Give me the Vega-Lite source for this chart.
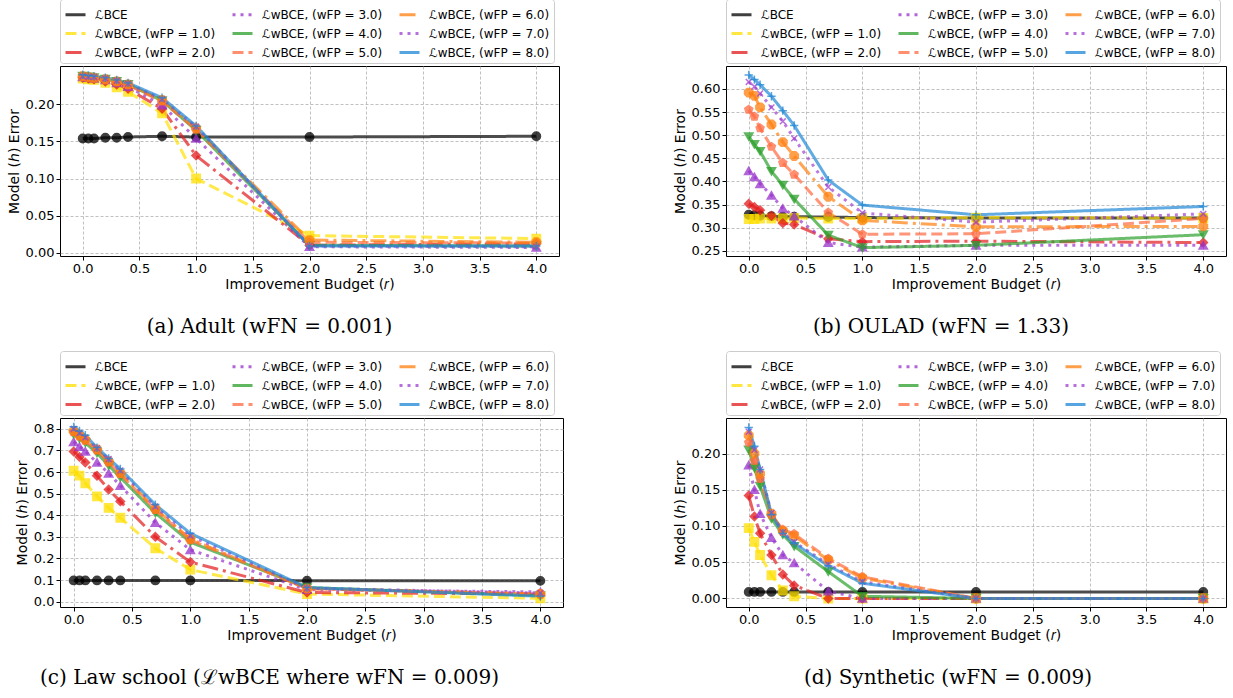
{
"$schema": "https://vega.github.io/schema/vega-lite/v6.json",
"padding": {"left": 6, "top": -2, "right": 0, "bottom": 0},
"background": "white",
"data": {"values": [
{"p":"a","s":"BCE","r":0,"e":0.154},{"p":"a","s":"BCE","r":0.05,"e":0.154},{"p":"a","s":"BCE","r":0.1,"e":0.154},{"p":"a","s":"BCE","r":0.2,"e":0.155},{"p":"a","s":"BCE","r":0.3,"e":0.155},{"p":"a","s":"BCE","r":0.4,"e":0.156},{"p":"a","s":"BCE","r":0.7,"e":0.157},{"p":"a","s":"BCE","r":1,"e":0.156},{"p":"a","s":"BCE","r":2,"e":0.156},{"p":"a","s":"BCE","r":4,"e":0.157},
{"p":"a","s":"w1","r":0,"e":0.235},{"p":"a","s":"w1","r":0.05,"e":0.234},{"p":"a","s":"w1","r":0.1,"e":0.233},{"p":"a","s":"w1","r":0.2,"e":0.229},{"p":"a","s":"w1","r":0.3,"e":0.223},{"p":"a","s":"w1","r":0.4,"e":0.217},{"p":"a","s":"w1","r":0.7,"e":0.188},{"p":"a","s":"w1","r":1,"e":0.100},{"p":"a","s":"w1","r":2,"e":0.023},{"p":"a","s":"w1","r":4,"e":0.019},
{"p":"a","s":"w2","r":0,"e":0.236},{"p":"a","s":"w2","r":0.05,"e":0.235},{"p":"a","s":"w2","r":0.1,"e":0.234},{"p":"a","s":"w2","r":0.2,"e":0.231},{"p":"a","s":"w2","r":0.3,"e":0.227},{"p":"a","s":"w2","r":0.4,"e":0.221},{"p":"a","s":"w2","r":0.7,"e":0.194},{"p":"a","s":"w2","r":1,"e":0.131},{"p":"a","s":"w2","r":2,"e":0.010},{"p":"a","s":"w2","r":4,"e":0.012},
{"p":"a","s":"w3","r":0,"e":0.237},{"p":"a","s":"w3","r":0.05,"e":0.236},{"p":"a","s":"w3","r":0.1,"e":0.235},{"p":"a","s":"w3","r":0.2,"e":0.233},{"p":"a","s":"w3","r":0.3,"e":0.229},{"p":"a","s":"w3","r":0.4,"e":0.224},{"p":"a","s":"w3","r":0.7,"e":0.199},{"p":"a","s":"w3","r":1,"e":0.154},{"p":"a","s":"w3","r":2,"e":0.008},{"p":"a","s":"w3","r":4,"e":0.007},
{"p":"a","s":"w4","r":0,"e":0.238},{"p":"a","s":"w4","r":0.05,"e":0.237},{"p":"a","s":"w4","r":0.1,"e":0.236},{"p":"a","s":"w4","r":0.2,"e":0.234},{"p":"a","s":"w4","r":0.3,"e":0.231},{"p":"a","s":"w4","r":0.4,"e":0.227},{"p":"a","s":"w4","r":0.7,"e":0.205},{"p":"a","s":"w4","r":1,"e":0.165},{"p":"a","s":"w4","r":2,"e":0.010},{"p":"a","s":"w4","r":4,"e":0.009},
{"p":"a","s":"w5","r":0,"e":0.237},{"p":"a","s":"w5","r":0.05,"e":0.236},{"p":"a","s":"w5","r":0.1,"e":0.235},{"p":"a","s":"w5","r":0.2,"e":0.233},{"p":"a","s":"w5","r":0.3,"e":0.230},{"p":"a","s":"w5","r":0.4,"e":0.226},{"p":"a","s":"w5","r":0.7,"e":0.204},{"p":"a","s":"w5","r":1,"e":0.166},{"p":"a","s":"w5","r":2,"e":0.014},{"p":"a","s":"w5","r":4,"e":0.013},
{"p":"a","s":"w6","r":0,"e":0.238},{"p":"a","s":"w6","r":0.05,"e":0.237},{"p":"a","s":"w6","r":0.1,"e":0.236},{"p":"a","s":"w6","r":0.2,"e":0.234},{"p":"a","s":"w6","r":0.3,"e":0.231},{"p":"a","s":"w6","r":0.4,"e":0.227},{"p":"a","s":"w6","r":0.7,"e":0.206},{"p":"a","s":"w6","r":1,"e":0.168},{"p":"a","s":"w6","r":2,"e":0.017},{"p":"a","s":"w6","r":4,"e":0.014},
{"p":"a","s":"w7","r":0,"e":0.238},{"p":"a","s":"w7","r":0.05,"e":0.237},{"p":"a","s":"w7","r":0.1,"e":0.237},{"p":"a","s":"w7","r":0.2,"e":0.235},{"p":"a","s":"w7","r":0.3,"e":0.232},{"p":"a","s":"w7","r":0.4,"e":0.228},{"p":"a","s":"w7","r":0.7,"e":0.207},{"p":"a","s":"w7","r":1,"e":0.170},{"p":"a","s":"w7","r":2,"e":0.009},{"p":"a","s":"w7","r":4,"e":0.008},
{"p":"a","s":"w8","r":0,"e":0.240},{"p":"a","s":"w8","r":0.05,"e":0.239},{"p":"a","s":"w8","r":0.1,"e":0.238},{"p":"a","s":"w8","r":0.2,"e":0.236},{"p":"a","s":"w8","r":0.3,"e":0.233},{"p":"a","s":"w8","r":0.4,"e":0.229},{"p":"a","s":"w8","r":0.7,"e":0.209},{"p":"a","s":"w8","r":1,"e":0.171},{"p":"a","s":"w8","r":2,"e":0.009},{"p":"a","s":"w8","r":4,"e":0.009},
{"p":"b","s":"BCE","r":0,"e":0.328},{"p":"b","s":"BCE","r":0.05,"e":0.327},{"p":"b","s":"BCE","r":0.1,"e":0.326},{"p":"b","s":"BCE","r":0.2,"e":0.325},{"p":"b","s":"BCE","r":0.3,"e":0.324},{"p":"b","s":"BCE","r":0.4,"e":0.324},{"p":"b","s":"BCE","r":0.7,"e":0.323},{"p":"b","s":"BCE","r":1,"e":0.322},{"p":"b","s":"BCE","r":2,"e":0.321},{"p":"b","s":"BCE","r":4,"e":0.321},
{"p":"b","s":"w1","r":0,"e":0.319},{"p":"b","s":"w1","r":0.05,"e":0.319},{"p":"b","s":"w1","r":0.1,"e":0.320},{"p":"b","s":"w1","r":0.2,"e":0.320},{"p":"b","s":"w1","r":0.3,"e":0.320},{"p":"b","s":"w1","r":0.4,"e":0.321},{"p":"b","s":"w1","r":0.7,"e":0.320},{"p":"b","s":"w1","r":1,"e":0.320},{"p":"b","s":"w1","r":2,"e":0.322},{"p":"b","s":"w1","r":4,"e":0.321},
{"p":"b","s":"w2","r":0,"e":0.352},{"p":"b","s":"w2","r":0.05,"e":0.345},{"p":"b","s":"w2","r":0.1,"e":0.338},{"p":"b","s":"w2","r":0.2,"e":0.326},{"p":"b","s":"w2","r":0.3,"e":0.310},{"p":"b","s":"w2","r":0.4,"e":0.307},{"p":"b","s":"w2","r":0.7,"e":0.276},{"p":"b","s":"w2","r":1,"e":0.270},{"p":"b","s":"w2","r":2,"e":0.271},{"p":"b","s":"w2","r":4,"e":0.268},
{"p":"b","s":"w3","r":0,"e":0.423},{"p":"b","s":"w3","r":0.05,"e":0.410},{"p":"b","s":"w3","r":0.1,"e":0.395},{"p":"b","s":"w3","r":0.2,"e":0.370},{"p":"b","s":"w3","r":0.3,"e":0.342},{"p":"b","s":"w3","r":0.4,"e":0.325},{"p":"b","s":"w3","r":0.7,"e":0.268},{"p":"b","s":"w3","r":1,"e":0.258},{"p":"b","s":"w3","r":2,"e":0.262},{"p":"b","s":"w3","r":4,"e":0.262},
{"p":"b","s":"w4","r":0,"e":0.497},{"p":"b","s":"w4","r":0.05,"e":0.480},{"p":"b","s":"w4","r":0.1,"e":0.465},{"p":"b","s":"w4","r":0.2,"e":0.422},{"p":"b","s":"w4","r":0.3,"e":0.392},{"p":"b","s":"w4","r":0.4,"e":0.362},{"p":"b","s":"w4","r":0.7,"e":0.284},{"p":"b","s":"w4","r":1,"e":0.257},{"p":"b","s":"w4","r":2,"e":0.262},{"p":"b","s":"w4","r":4,"e":0.285},
{"p":"b","s":"w5","r":0,"e":0.555},{"p":"b","s":"w5","r":0.05,"e":0.540},{"p":"b","s":"w5","r":0.1,"e":0.515},{"p":"b","s":"w5","r":0.2,"e":0.475},{"p":"b","s":"w5","r":0.3,"e":0.440},{"p":"b","s":"w5","r":0.4,"e":0.415},{"p":"b","s":"w5","r":0.7,"e":0.333},{"p":"b","s":"w5","r":1,"e":0.286},{"p":"b","s":"w5","r":2,"e":0.287},{"p":"b","s":"w5","r":4,"e":0.320},
{"p":"b","s":"w6","r":0,"e":0.592},{"p":"b","s":"w6","r":0.05,"e":0.585},{"p":"b","s":"w6","r":0.1,"e":0.560},{"p":"b","s":"w6","r":0.2,"e":0.523},{"p":"b","s":"w6","r":0.3,"e":0.485},{"p":"b","s":"w6","r":0.4,"e":0.455},{"p":"b","s":"w6","r":0.7,"e":0.367},{"p":"b","s":"w6","r":1,"e":0.316},{"p":"b","s":"w6","r":2,"e":0.302},{"p":"b","s":"w6","r":4,"e":0.303},
{"p":"b","s":"w7","r":0,"e":0.615},{"p":"b","s":"w7","r":0.05,"e":0.605},{"p":"b","s":"w7","r":0.1,"e":0.590},{"p":"b","s":"w7","r":0.2,"e":0.560},{"p":"b","s":"w7","r":0.3,"e":0.530},{"p":"b","s":"w7","r":0.4,"e":0.493},{"p":"b","s":"w7","r":0.7,"e":0.388},{"p":"b","s":"w7","r":1,"e":0.332},{"p":"b","s":"w7","r":2,"e":0.312},{"p":"b","s":"w7","r":4,"e":0.330},
{"p":"b","s":"w8","r":0,"e":0.630},{"p":"b","s":"w8","r":0.05,"e":0.620},{"p":"b","s":"w8","r":0.1,"e":0.609},{"p":"b","s":"w8","r":0.2,"e":0.584},{"p":"b","s":"w8","r":0.3,"e":0.553},{"p":"b","s":"w8","r":0.4,"e":0.521},{"p":"b","s":"w8","r":0.7,"e":0.403},{"p":"b","s":"w8","r":1,"e":0.349},{"p":"b","s":"w8","r":2,"e":0.328},{"p":"b","s":"w8","r":4,"e":0.346},
{"p":"c","s":"BCE","r":0,"e":0.098},{"p":"c","s":"BCE","r":0.05,"e":0.098},{"p":"c","s":"BCE","r":0.1,"e":0.098},{"p":"c","s":"BCE","r":0.2,"e":0.098},{"p":"c","s":"BCE","r":0.3,"e":0.098},{"p":"c","s":"BCE","r":0.4,"e":0.098},{"p":"c","s":"BCE","r":0.7,"e":0.098},{"p":"c","s":"BCE","r":1,"e":0.098},{"p":"c","s":"BCE","r":2,"e":0.097},{"p":"c","s":"BCE","r":4,"e":0.096},
{"p":"c","s":"w1","r":0,"e":0.606},{"p":"c","s":"w1","r":0.05,"e":0.583},{"p":"c","s":"w1","r":0.1,"e":0.548},{"p":"c","s":"w1","r":0.2,"e":0.487},{"p":"c","s":"w1","r":0.3,"e":0.434},{"p":"c","s":"w1","r":0.4,"e":0.388},{"p":"c","s":"w1","r":0.7,"e":0.247},{"p":"c","s":"w1","r":1,"e":0.148},{"p":"c","s":"w1","r":2,"e":0.035},{"p":"c","s":"w1","r":4,"e":0.015},
{"p":"c","s":"w2","r":0,"e":0.695},{"p":"c","s":"w2","r":0.05,"e":0.670},{"p":"c","s":"w2","r":0.1,"e":0.644},{"p":"c","s":"w2","r":0.2,"e":0.583},{"p":"c","s":"w2","r":0.3,"e":0.519},{"p":"c","s":"w2","r":0.4,"e":0.464},{"p":"c","s":"w2","r":0.7,"e":0.300},{"p":"c","s":"w2","r":1,"e":0.183},{"p":"c","s":"w2","r":2,"e":0.042},{"p":"c","s":"w2","r":4,"e":0.035},
{"p":"c","s":"w3","r":0,"e":0.740},{"p":"c","s":"w3","r":0.05,"e":0.718},{"p":"c","s":"w3","r":0.1,"e":0.696},{"p":"c","s":"w3","r":0.2,"e":0.644},{"p":"c","s":"w3","r":0.3,"e":0.594},{"p":"c","s":"w3","r":0.4,"e":0.537},{"p":"c","s":"w3","r":0.7,"e":0.366},{"p":"c","s":"w3","r":1,"e":0.240},{"p":"c","s":"w3","r":2,"e":0.055},{"p":"c","s":"w3","r":4,"e":0.045},
{"p":"c","s":"w4","r":0,"e":0.775},{"p":"c","s":"w4","r":0.05,"e":0.755},{"p":"c","s":"w4","r":0.1,"e":0.735},{"p":"c","s":"w4","r":0.2,"e":0.688},{"p":"c","s":"w4","r":0.3,"e":0.630},{"p":"c","s":"w4","r":0.4,"e":0.575},{"p":"c","s":"w4","r":0.7,"e":0.410},{"p":"c","s":"w4","r":1,"e":0.275},{"p":"c","s":"w4","r":2,"e":0.065},{"p":"c","s":"w4","r":4,"e":0.028},
{"p":"c","s":"w5","r":0,"e":0.785},{"p":"c","s":"w5","r":0.05,"e":0.765},{"p":"c","s":"w5","r":0.1,"e":0.745},{"p":"c","s":"w5","r":0.2,"e":0.700},{"p":"c","s":"w5","r":0.3,"e":0.645},{"p":"c","s":"w5","r":0.4,"e":0.590},{"p":"c","s":"w5","r":0.7,"e":0.425},{"p":"c","s":"w5","r":1,"e":0.285},{"p":"c","s":"w5","r":2,"e":0.060},{"p":"c","s":"w5","r":4,"e":0.035},
{"p":"c","s":"w6","r":0,"e":0.790},{"p":"c","s":"w6","r":0.05,"e":0.770},{"p":"c","s":"w6","r":0.1,"e":0.750},{"p":"c","s":"w6","r":0.2,"e":0.705},{"p":"c","s":"w6","r":0.3,"e":0.650},{"p":"c","s":"w6","r":0.4,"e":0.595},{"p":"c","s":"w6","r":0.7,"e":0.430},{"p":"c","s":"w6","r":1,"e":0.290},{"p":"c","s":"w6","r":2,"e":0.060},{"p":"c","s":"w6","r":4,"e":0.035},
{"p":"c","s":"w7","r":0,"e":0.800},{"p":"c","s":"w7","r":0.05,"e":0.780},{"p":"c","s":"w7","r":0.1,"e":0.760},{"p":"c","s":"w7","r":0.2,"e":0.710},{"p":"c","s":"w7","r":0.3,"e":0.660},{"p":"c","s":"w7","r":0.4,"e":0.607},{"p":"c","s":"w7","r":0.7,"e":0.440},{"p":"c","s":"w7","r":1,"e":0.305},{"p":"c","s":"w7","r":2,"e":0.062},{"p":"c","s":"w7","r":4,"e":0.040},
{"p":"c","s":"w8","r":0,"e":0.809},{"p":"c","s":"w8","r":0.05,"e":0.790},{"p":"c","s":"w8","r":0.1,"e":0.770},{"p":"c","s":"w8","r":0.2,"e":0.713},{"p":"c","s":"w8","r":0.3,"e":0.663},{"p":"c","s":"w8","r":0.4,"e":0.614},{"p":"c","s":"w8","r":0.7,"e":0.449},{"p":"c","s":"w8","r":1,"e":0.316},{"p":"c","s":"w8","r":2,"e":0.065},{"p":"c","s":"w8","r":4,"e":0.025},
{"p":"d","s":"BCE","r":0,"e":0.009},{"p":"d","s":"BCE","r":0.05,"e":0.009},{"p":"d","s":"BCE","r":0.1,"e":0.009},{"p":"d","s":"BCE","r":0.2,"e":0.009},{"p":"d","s":"BCE","r":0.3,"e":0.009},{"p":"d","s":"BCE","r":0.4,"e":0.009},{"p":"d","s":"BCE","r":0.7,"e":0.009},{"p":"d","s":"BCE","r":1,"e":0.009},{"p":"d","s":"BCE","r":2,"e":0.009},{"p":"d","s":"BCE","r":4,"e":0.009},
{"p":"d","s":"w1","r":0,"e":0.097},{"p":"d","s":"w1","r":0.05,"e":0.078},{"p":"d","s":"w1","r":0.1,"e":0.060},{"p":"d","s":"w1","r":0.2,"e":0.032},{"p":"d","s":"w1","r":0.3,"e":0.011},{"p":"d","s":"w1","r":0.4,"e":0.003},{"p":"d","s":"w1","r":0.7,"e":0.0},{"p":"d","s":"w1","r":1,"e":0.0},{"p":"d","s":"w1","r":2,"e":0.0},{"p":"d","s":"w1","r":4,"e":0.0},
{"p":"d","s":"w2","r":0,"e":0.142},{"p":"d","s":"w2","r":0.05,"e":0.113},{"p":"d","s":"w2","r":0.1,"e":0.090},{"p":"d","s":"w2","r":0.2,"e":0.060},{"p":"d","s":"w2","r":0.3,"e":0.033},{"p":"d","s":"w2","r":0.4,"e":0.018},{"p":"d","s":"w2","r":0.7,"e":0.0},{"p":"d","s":"w2","r":1,"e":0.0},{"p":"d","s":"w2","r":2,"e":0.0},{"p":"d","s":"w2","r":4,"e":0.0},
{"p":"d","s":"w3","r":0,"e":0.184},{"p":"d","s":"w3","r":0.05,"e":0.150},{"p":"d","s":"w3","r":0.1,"e":0.117},{"p":"d","s":"w3","r":0.2,"e":0.084},{"p":"d","s":"w3","r":0.3,"e":0.060},{"p":"d","s":"w3","r":0.4,"e":0.049},{"p":"d","s":"w3","r":0.7,"e":0.010},{"p":"d","s":"w3","r":1,"e":0.0},{"p":"d","s":"w3","r":2,"e":0.0},{"p":"d","s":"w3","r":4,"e":0.0},
{"p":"d","s":"w4","r":0,"e":0.205},{"p":"d","s":"w4","r":0.05,"e":0.180},{"p":"d","s":"w4","r":0.1,"e":0.155},{"p":"d","s":"w4","r":0.2,"e":0.110},{"p":"d","s":"w4","r":0.3,"e":0.088},{"p":"d","s":"w4","r":0.4,"e":0.072},{"p":"d","s":"w4","r":0.7,"e":0.037},{"p":"d","s":"w4","r":1,"e":0.003},{"p":"d","s":"w4","r":2,"e":0.0},{"p":"d","s":"w4","r":4,"e":0.0},
{"p":"d","s":"w5","r":0,"e":0.215},{"p":"d","s":"w5","r":0.05,"e":0.190},{"p":"d","s":"w5","r":0.1,"e":0.165},{"p":"d","s":"w5","r":0.2,"e":0.115},{"p":"d","s":"w5","r":0.3,"e":0.095},{"p":"d","s":"w5","r":0.4,"e":0.089},{"p":"d","s":"w5","r":0.7,"e":0.055},{"p":"d","s":"w5","r":1,"e":0.030},{"p":"d","s":"w5","r":2,"e":0.0},{"p":"d","s":"w5","r":4,"e":0.0},
{"p":"d","s":"w6","r":0,"e":0.225},{"p":"d","s":"w6","r":0.05,"e":0.200},{"p":"d","s":"w6","r":0.1,"e":0.172},{"p":"d","s":"w6","r":0.2,"e":0.117},{"p":"d","s":"w6","r":0.3,"e":0.093},{"p":"d","s":"w6","r":0.4,"e":0.086},{"p":"d","s":"w6","r":0.7,"e":0.053},{"p":"d","s":"w6","r":1,"e":0.028},{"p":"d","s":"w6","r":2,"e":0.0},{"p":"d","s":"w6","r":4,"e":0.0},
{"p":"d","s":"w7","r":0,"e":0.230},{"p":"d","s":"w7","r":0.05,"e":0.205},{"p":"d","s":"w7","r":0.1,"e":0.178},{"p":"d","s":"w7","r":0.2,"e":0.118},{"p":"d","s":"w7","r":0.3,"e":0.091},{"p":"d","s":"w7","r":0.4,"e":0.078},{"p":"d","s":"w7","r":0.7,"e":0.047},{"p":"d","s":"w7","r":1,"e":0.023},{"p":"d","s":"w7","r":2,"e":0.0},{"p":"d","s":"w7","r":4,"e":0.0},
{"p":"d","s":"w8","r":0,"e":0.236},{"p":"d","s":"w8","r":0.05,"e":0.210},{"p":"d","s":"w8","r":0.1,"e":0.178},{"p":"d","s":"w8","r":0.2,"e":0.116},{"p":"d","s":"w8","r":0.3,"e":0.090},{"p":"d","s":"w8","r":0.4,"e":0.076},{"p":"d","s":"w8","r":0.7,"e":0.045},{"p":"d","s":"w8","r":1,"e":0.021},{"p":"d","s":"w8","r":2,"e":0.0},{"p":"d","s":"w8","r":4,"e":0.0}
]},
"spacing": 352,
"bounds": "flush",
"resolve": {"legend": {"color": "independent", "strokeDash": "independent"}},
"vconcat": [
{"hconcat": [
{"width": 499, "height": 190,
 "transform": [{"filter": "datum.p == 'a'"}],
 "title": {"text": "(a) Adult (wFN = 0.001)", "dx": -40},
 "encoding": {
  "x": {"field": "r", "type": "quantitative", "scale": {"domain": [-0.2, 4.2], "nice": false, "zero": false}, "axis": {"values": [0, 0.5, 1, 1.5, 2, 2.5, 3, 3.5, 4], "format": ".1f", "title": "Improvement Budget (𝑟)"}},
  "y": {"field": "e", "type": "quantitative", "scale": {"domain": [-0.0045, 0.2518], "nice": false, "zero": false}, "axis": {"values": [0, 0.05, 0.1, 0.15, 0.2], "format": ".2f", "title": "Model (ℎ) Error"}}
 },
 "layer": [
  {"mark": {"type": "line", "strokeWidth": 3, "opacity": 0.7},
   "encoding": {
    "color": {"field": "s", "type": "nominal", "scale": {"domain": ["BCE","w3","w6","w1","w4","w7","w2","w5","w8"], "range": ["#000000","#9932cc","#ff7f0e","#ffe000","#2ca02c","#a040d0","#e31a1c","#ff6a40","#1f88d6"]}, "legend": {"title": null, "orient": "top", "columns": 3, "labelExpr": "datum.label == 'BCE' ? 'ℒBCE' : 'ℒwBCE, (wFP = ' + substring(datum.label, 1) + '.0)'", "symbolType": "stroke", "symbolSize": 400, "symbolStrokeWidth": 3, "symbolOpacity": 0.75, "labelFontSize": 12, "labelOffset": 8, "columnPadding": 10, "rowPadding": 1, "padding": 4, "offset": 3, "strokeColor": "#cccccc", "fillColor": "white", "cornerRadius": 3, "labelLimit": 0}},
    "strokeDash": {"field": "s", "type": "nominal", "scale": {"domain": ["BCE","w3","w6","w1","w4","w7","w2","w5","w8"], "range": [[1,0],[3,5],[16,5,3,5],[11,5],[1,0],[3,5],[16,5,3,5],[11,5],[1,0]]}, "legend": {"title": null, "orient": "top", "columns": 3, "labelExpr": "datum.label == 'BCE' ? 'ℒBCE' : 'ℒwBCE, (wFP = ' + substring(datum.label, 1) + '.0)'", "symbolType": "stroke", "symbolSize": 400, "symbolStrokeWidth": 3, "symbolOpacity": 0.75, "labelFontSize": 12, "labelOffset": 8, "columnPadding": 10, "rowPadding": 1, "padding": 4, "offset": 3, "strokeColor": "#cccccc", "fillColor": "white", "cornerRadius": 3, "labelLimit": 0}}
   }},
  {"mark": {"type": "point", "filled": true, "size": 70, "opacity": 0.75, "strokeWidth": 1.5},
   "encoding": {
    "fill": {"field": "s", "type": "nominal", "scale": {"domain": ["BCE","w3","w6","w1","w4","w7","w2","w5","w8"], "range": ["#000000","#9932cc","#ff7f0e","#ffe000","#2ca02c","#a040d0","#e31a1c","#ff6a40","#1f88d6"]}, "legend": null},
    "stroke": {"field": "s", "type": "nominal", "scale": {"domain": ["BCE","w3","w6","w1","w4","w7","w2","w5","w8"], "range": ["#000000","#9932cc","#ff7f0e","#ffe000","#2ca02c","#a040d0","#e31a1c","#ff6a40","#1f88d6"]}, "legend": null},
    "shape": {"field": "s", "type": "nominal", "scale": {"domain": ["BCE","w3","w6","w1","w4","w7","w2","w5","w8"], "range": ["circle","triangle-up","M-0.414,-1L0.414,-1L1,-0.414L1,0.414L0.414,1L-0.414,1L-1,0.414L-1,-0.414Z","square","triangle-down","M-0.7,-0.7L0.7,0.7M-0.7,0.7L0.7,-0.7","diamond","M0,-1L0.951,-0.309L0.588,0.809L-0.588,0.809L-0.951,-0.309Z","M-1,0L1,0M0,-1L0,1"]}, "legend": null}
   }}
 ]},
{"width": 500, "height": 190,
 "transform": [{"filter": "datum.p == 'b'"}],
 "title": {"text": "(b) OULAD (wFN = 1.33)", "dx": -35},
 "encoding": {
  "x": {"field": "r", "type": "quantitative", "scale": {"domain": [-0.2, 4.2], "nice": false, "zero": false}, "axis": {"values": [0, 0.5, 1, 1.5, 2, 2.5, 3, 3.5, 4], "format": ".1f", "title": "Improvement Budget (𝑟)"}},
  "y": {"field": "e", "type": "quantitative", "scale": {"domain": [0.239, 0.6494], "nice": false, "zero": false}, "axis": {"values": [0.25, 0.3, 0.35, 0.4, 0.45, 0.5, 0.55, 0.6], "format": ".2f", "title": "Model (ℎ) Error"}}
 },
 "layer": [
  {"mark": {"type": "line", "strokeWidth": 3, "opacity": 0.7},
   "encoding": {
    "color": {"field": "s", "type": "nominal", "scale": {"domain": ["BCE","w3","w6","w1","w4","w7","w2","w5","w8"], "range": ["#000000","#9932cc","#ff7f0e","#ffe000","#2ca02c","#a040d0","#e31a1c","#ff6a40","#1f88d6"]}, "legend": {"title": null, "orient": "top", "columns": 3, "labelExpr": "datum.label == 'BCE' ? 'ℒBCE' : 'ℒwBCE, (wFP = ' + substring(datum.label, 1) + '.0)'", "symbolType": "stroke", "symbolSize": 400, "symbolStrokeWidth": 3, "symbolOpacity": 0.75, "labelFontSize": 12, "labelOffset": 8, "columnPadding": 10, "rowPadding": 1, "padding": 4, "offset": 3, "strokeColor": "#cccccc", "fillColor": "white", "cornerRadius": 3, "labelLimit": 0}},
    "strokeDash": {"field": "s", "type": "nominal", "scale": {"domain": ["BCE","w3","w6","w1","w4","w7","w2","w5","w8"], "range": [[1,0],[3,5],[16,5,3,5],[11,5],[1,0],[3,5],[16,5,3,5],[11,5],[1,0]]}, "legend": {"title": null, "orient": "top", "columns": 3, "labelExpr": "datum.label == 'BCE' ? 'ℒBCE' : 'ℒwBCE, (wFP = ' + substring(datum.label, 1) + '.0)'", "symbolType": "stroke", "symbolSize": 400, "symbolStrokeWidth": 3, "symbolOpacity": 0.75, "labelFontSize": 12, "labelOffset": 8, "columnPadding": 10, "rowPadding": 1, "padding": 4, "offset": 3, "strokeColor": "#cccccc", "fillColor": "white", "cornerRadius": 3, "labelLimit": 0}}
   }},
  {"mark": {"type": "point", "filled": true, "size": 70, "opacity": 0.75, "strokeWidth": 1.5},
   "encoding": {
    "fill": {"field": "s", "type": "nominal", "scale": {"domain": ["BCE","w3","w6","w1","w4","w7","w2","w5","w8"], "range": ["#000000","#9932cc","#ff7f0e","#ffe000","#2ca02c","#a040d0","#e31a1c","#ff6a40","#1f88d6"]}, "legend": null},
    "stroke": {"field": "s", "type": "nominal", "scale": {"domain": ["BCE","w3","w6","w1","w4","w7","w2","w5","w8"], "range": ["#000000","#9932cc","#ff7f0e","#ffe000","#2ca02c","#a040d0","#e31a1c","#ff6a40","#1f88d6"]}, "legend": null},
    "shape": {"field": "s", "type": "nominal", "scale": {"domain": ["BCE","w3","w6","w1","w4","w7","w2","w5","w8"], "range": ["circle","triangle-up","M-0.414,-1L0.414,-1L1,-0.414L1,0.414L0.414,1L-0.414,1L-1,0.414L-1,-0.414Z","square","triangle-down","M-0.7,-0.7L0.7,0.7M-0.7,0.7L0.7,-0.7","diamond","M0,-1L0.951,-0.309L0.588,0.809L-0.588,0.809L-0.951,-0.309Z","M-1,0L1,0M0,-1L0,1"]}, "legend": null}
   }}
 ]}
], "spacing": 167, "bounds": "flush", "resolve": {"legend": {"color": "independent", "strokeDash": "independent"}}},
{"hconcat": [
{"width": 503, "height": 189,
 "transform": [{"filter": "datum.p == 'c'"}],
 "title": {"text": "(c) Law school (ℒwBCE where wFN = 0.009)", "dx": -42},
 "encoding": {
  "x": {"field": "r", "type": "quantitative", "scale": {"domain": [-0.117, 4.194], "nice": false, "zero": false}, "axis": {"values": [0, 0.5, 1, 1.5, 2, 2.5, 3, 3.5, 4], "format": ".1f", "title": "Improvement Budget (𝑟)"}},
  "y": {"field": "e", "type": "quantitative", "scale": {"domain": [-0.025, 0.85], "nice": false, "zero": false}, "axis": {"values": [0, 0.1, 0.2, 0.3, 0.4, 0.5, 0.6, 0.7, 0.8], "format": ".1f", "title": "Model (ℎ) Error"}}
 },
 "layer": [
  {"mark": {"type": "line", "strokeWidth": 3, "opacity": 0.7},
   "encoding": {
    "color": {"field": "s", "type": "nominal", "scale": {"domain": ["BCE","w3","w6","w1","w4","w7","w2","w5","w8"], "range": ["#000000","#9932cc","#ff7f0e","#ffe000","#2ca02c","#a040d0","#e31a1c","#ff6a40","#1f88d6"]}, "legend": {"title": null, "orient": "top", "columns": 3, "labelExpr": "datum.label == 'BCE' ? 'ℒBCE' : 'ℒwBCE, (wFP = ' + substring(datum.label, 1) + '.0)'", "symbolType": "stroke", "symbolSize": 400, "symbolStrokeWidth": 3, "symbolOpacity": 0.75, "labelFontSize": 12, "labelOffset": 8, "columnPadding": 10, "rowPadding": 1, "padding": 4, "offset": 3, "strokeColor": "#cccccc", "fillColor": "white", "cornerRadius": 3, "labelLimit": 0}},
    "strokeDash": {"field": "s", "type": "nominal", "scale": {"domain": ["BCE","w3","w6","w1","w4","w7","w2","w5","w8"], "range": [[1,0],[3,5],[16,5,3,5],[11,5],[1,0],[3,5],[16,5,3,5],[11,5],[1,0]]}, "legend": {"title": null, "orient": "top", "columns": 3, "labelExpr": "datum.label == 'BCE' ? 'ℒBCE' : 'ℒwBCE, (wFP = ' + substring(datum.label, 1) + '.0)'", "symbolType": "stroke", "symbolSize": 400, "symbolStrokeWidth": 3, "symbolOpacity": 0.75, "labelFontSize": 12, "labelOffset": 8, "columnPadding": 10, "rowPadding": 1, "padding": 4, "offset": 3, "strokeColor": "#cccccc", "fillColor": "white", "cornerRadius": 3, "labelLimit": 0}}
   }},
  {"mark": {"type": "point", "filled": true, "size": 70, "opacity": 0.75, "strokeWidth": 1.5},
   "encoding": {
    "fill": {"field": "s", "type": "nominal", "scale": {"domain": ["BCE","w3","w6","w1","w4","w7","w2","w5","w8"], "range": ["#000000","#9932cc","#ff7f0e","#ffe000","#2ca02c","#a040d0","#e31a1c","#ff6a40","#1f88d6"]}, "legend": null},
    "stroke": {"field": "s", "type": "nominal", "scale": {"domain": ["BCE","w3","w6","w1","w4","w7","w2","w5","w8"], "range": ["#000000","#9932cc","#ff7f0e","#ffe000","#2ca02c","#a040d0","#e31a1c","#ff6a40","#1f88d6"]}, "legend": null},
    "shape": {"field": "s", "type": "nominal", "scale": {"domain": ["BCE","w3","w6","w1","w4","w7","w2","w5","w8"], "range": ["circle","triangle-up","M-0.414,-1L0.414,-1L1,-0.414L1,0.414L0.414,1L-0.414,1L-1,0.414L-1,-0.414Z","square","triangle-down","M-0.7,-0.7L0.7,0.7M-0.7,0.7L0.7,-0.7","diamond","M0,-1L0.951,-0.309L0.588,0.809L-0.588,0.809L-0.951,-0.309Z","M-1,0L1,0M0,-1L0,1"]}, "legend": null}
   }}
 ]},
{"width": 500, "height": 189,
 "transform": [{"filter": "datum.p == 'd'"}],
 "title": {"text": "(d) Synthetic (wFN = 0.009)", "dx": -28},
 "encoding": {
  "x": {"field": "r", "type": "quantitative", "scale": {"domain": [-0.2, 4.2], "nice": false, "zero": false}, "axis": {"values": [0, 0.5, 1, 1.5, 2, 2.5, 3, 3.5, 4], "format": ".1f", "title": "Improvement Budget (𝑟)"}},
  "y": {"field": "e", "type": "quantitative", "scale": {"domain": [-0.0118, 0.249], "nice": false, "zero": false}, "axis": {"values": [0, 0.05, 0.1, 0.15, 0.2], "format": ".2f", "title": "Model (ℎ) Error"}}
 },
 "layer": [
  {"mark": {"type": "line", "strokeWidth": 3, "opacity": 0.7},
   "encoding": {
    "color": {"field": "s", "type": "nominal", "scale": {"domain": ["BCE","w3","w6","w1","w4","w7","w2","w5","w8"], "range": ["#000000","#9932cc","#ff7f0e","#ffe000","#2ca02c","#a040d0","#e31a1c","#ff6a40","#1f88d6"]}, "legend": {"title": null, "orient": "top", "columns": 3, "labelExpr": "datum.label == 'BCE' ? 'ℒBCE' : 'ℒwBCE, (wFP = ' + substring(datum.label, 1) + '.0)'", "symbolType": "stroke", "symbolSize": 400, "symbolStrokeWidth": 3, "symbolOpacity": 0.75, "labelFontSize": 12, "labelOffset": 8, "columnPadding": 10, "rowPadding": 1, "padding": 4, "offset": 3, "strokeColor": "#cccccc", "fillColor": "white", "cornerRadius": 3, "labelLimit": 0}},
    "strokeDash": {"field": "s", "type": "nominal", "scale": {"domain": ["BCE","w3","w6","w1","w4","w7","w2","w5","w8"], "range": [[1,0],[3,5],[16,5,3,5],[11,5],[1,0],[3,5],[16,5,3,5],[11,5],[1,0]]}, "legend": {"title": null, "orient": "top", "columns": 3, "labelExpr": "datum.label == 'BCE' ? 'ℒBCE' : 'ℒwBCE, (wFP = ' + substring(datum.label, 1) + '.0)'", "symbolType": "stroke", "symbolSize": 400, "symbolStrokeWidth": 3, "symbolOpacity": 0.75, "labelFontSize": 12, "labelOffset": 8, "columnPadding": 10, "rowPadding": 1, "padding": 4, "offset": 3, "strokeColor": "#cccccc", "fillColor": "white", "cornerRadius": 3, "labelLimit": 0}}
   }},
  {"mark": {"type": "point", "filled": true, "size": 70, "opacity": 0.75, "strokeWidth": 1.5},
   "encoding": {
    "fill": {"field": "s", "type": "nominal", "scale": {"domain": ["BCE","w3","w6","w1","w4","w7","w2","w5","w8"], "range": ["#000000","#9932cc","#ff7f0e","#ffe000","#2ca02c","#a040d0","#e31a1c","#ff6a40","#1f88d6"]}, "legend": null},
    "stroke": {"field": "s", "type": "nominal", "scale": {"domain": ["BCE","w3","w6","w1","w4","w7","w2","w5","w8"], "range": ["#000000","#9932cc","#ff7f0e","#ffe000","#2ca02c","#a040d0","#e31a1c","#ff6a40","#1f88d6"]}, "legend": null},
    "shape": {"field": "s", "type": "nominal", "scale": {"domain": ["BCE","w3","w6","w1","w4","w7","w2","w5","w8"], "range": ["circle","triangle-up","M-0.414,-1L0.414,-1L1,-0.414L1,0.414L0.414,1L-0.414,1L-1,0.414L-1,-0.414Z","square","triangle-down","M-0.7,-0.7L0.7,0.7M-0.7,0.7L0.7,-0.7","diamond","M0,-1L0.951,-0.309L0.588,0.809L-0.588,0.809L-0.951,-0.309Z","M-1,0L1,0M0,-1L0,1"]}, "legend": null}
   }}
 ]}
], "spacing": 163, "bounds": "flush", "resolve": {"legend": {"color": "independent", "strokeDash": "independent"}}}
],
"config": {
 "font": "DejaVu Sans",
 "view": {"stroke": "black", "strokeWidth": 1},
 "axis": {"grid": true, "gridDash": [3, 2], "gridColor": "#b0b0b0", "gridWidth": 0.8, "domain": false, "tickColor": "black", "tickSize": 4, "labelFont": "DejaVu Sans", "labelFontSize": 13, "labelColor": "black", "labelPadding": 2, "titleFont": "DejaVu Sans", "titleFontSize": 14, "titleFontWeight": "normal", "titleColor": "black", "titlePadding": 4},
 "axisX": {"titlePadding": 2},
 "legend": {"labelFont": "DejaVu Sans", "labelColor": "black"},
 "title": {"orient": "bottom", "anchor": "middle", "frame": "group", "font": "DejaVu Serif", "fontSize": 20, "fontWeight": "normal", "color": "black", "offset": 26}
}
}
